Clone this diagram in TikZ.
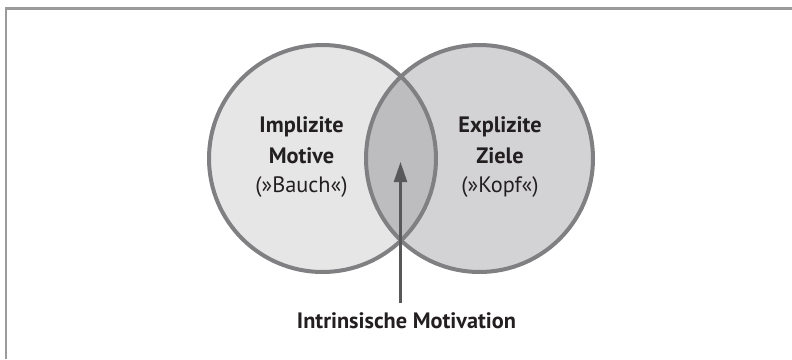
\documentclass[tikz,border=0pt]{standalone}
\usepackage{fontspec}
\setmainfont{PT Sans}
\usetikzlibrary{arrows.meta}
\definecolor{frame}{HTML}{9A9B9D}
\definecolor{ring}{HTML}{808083}
\definecolor{fillL}{HTML}{E6E6E7}
\definecolor{fillR}{HTML}{D3D3D5}
\definecolor{fillM}{HTML}{BDBDBF}
\definecolor{txt}{HTML}{231F20}
\definecolor{arr}{HTML}{58585A}
\tikzset{
  lbl/.style={anchor=base, inner sep=0pt, text=txt, font=\fontsize{22.3}{30}\selectfont},
  boldlbl/.style={lbl, font=\fontsize{22.3}{30}\selectfont\bfseries},
  ringline/.style={draw=ring, line width=4pt},
  pointer/.style={draw=arr, line width=2.2pt, -{Triangle[length=20pt,width=13pt]}}
}
\begin{document}
\begin{tikzpicture}[x=1pt,y=-1pt]
\useasboundingbox (0,0) rectangle (792,359);
% frame (top and left only)
\draw[frame, line width=2.6pt] (6,359) -- (6,8.5) -- (792,8.5);
% circles
\coordinate (cl) at (322.5,158.5);
\coordinate (cr) at (479.5,158.5);
\fill[fillL] (cl) circle[radius=113.5];
\fill[fillR] (cr) circle[radius=113.5];
\begin{scope}
  \clip (cl) circle[radius=113.5];
  \fill[fillM] (cr) circle[radius=113.5];
\end{scope}
\draw[ringline] (cl) circle[radius=113.5];
\draw[ringline] (cr) circle[radius=113.5];
% texts
\node[boldlbl] (impl) at (301.5,132) {Implizite};
\node[boldlbl] (motive) at (301.5,163) {Motive};
\node[lbl] (bauch) at (301.5,192) {(»Bauch«)};
\node[boldlbl] (expl) at (500,132) {Explizite};
\node[boldlbl] (ziele) at (500,163) {Ziele};
\node[lbl] (kopf) at (500,192) {(»Kopf«)};
\node[boldlbl] (intr) at (406.5,328) {Intrinsische Motivation};
\coordinate (tip) at (400.5,162);
\coordinate (tail) at (400.5,303);
\draw[pointer] (tail) -- (tip);
\end{tikzpicture}
\end{document}
